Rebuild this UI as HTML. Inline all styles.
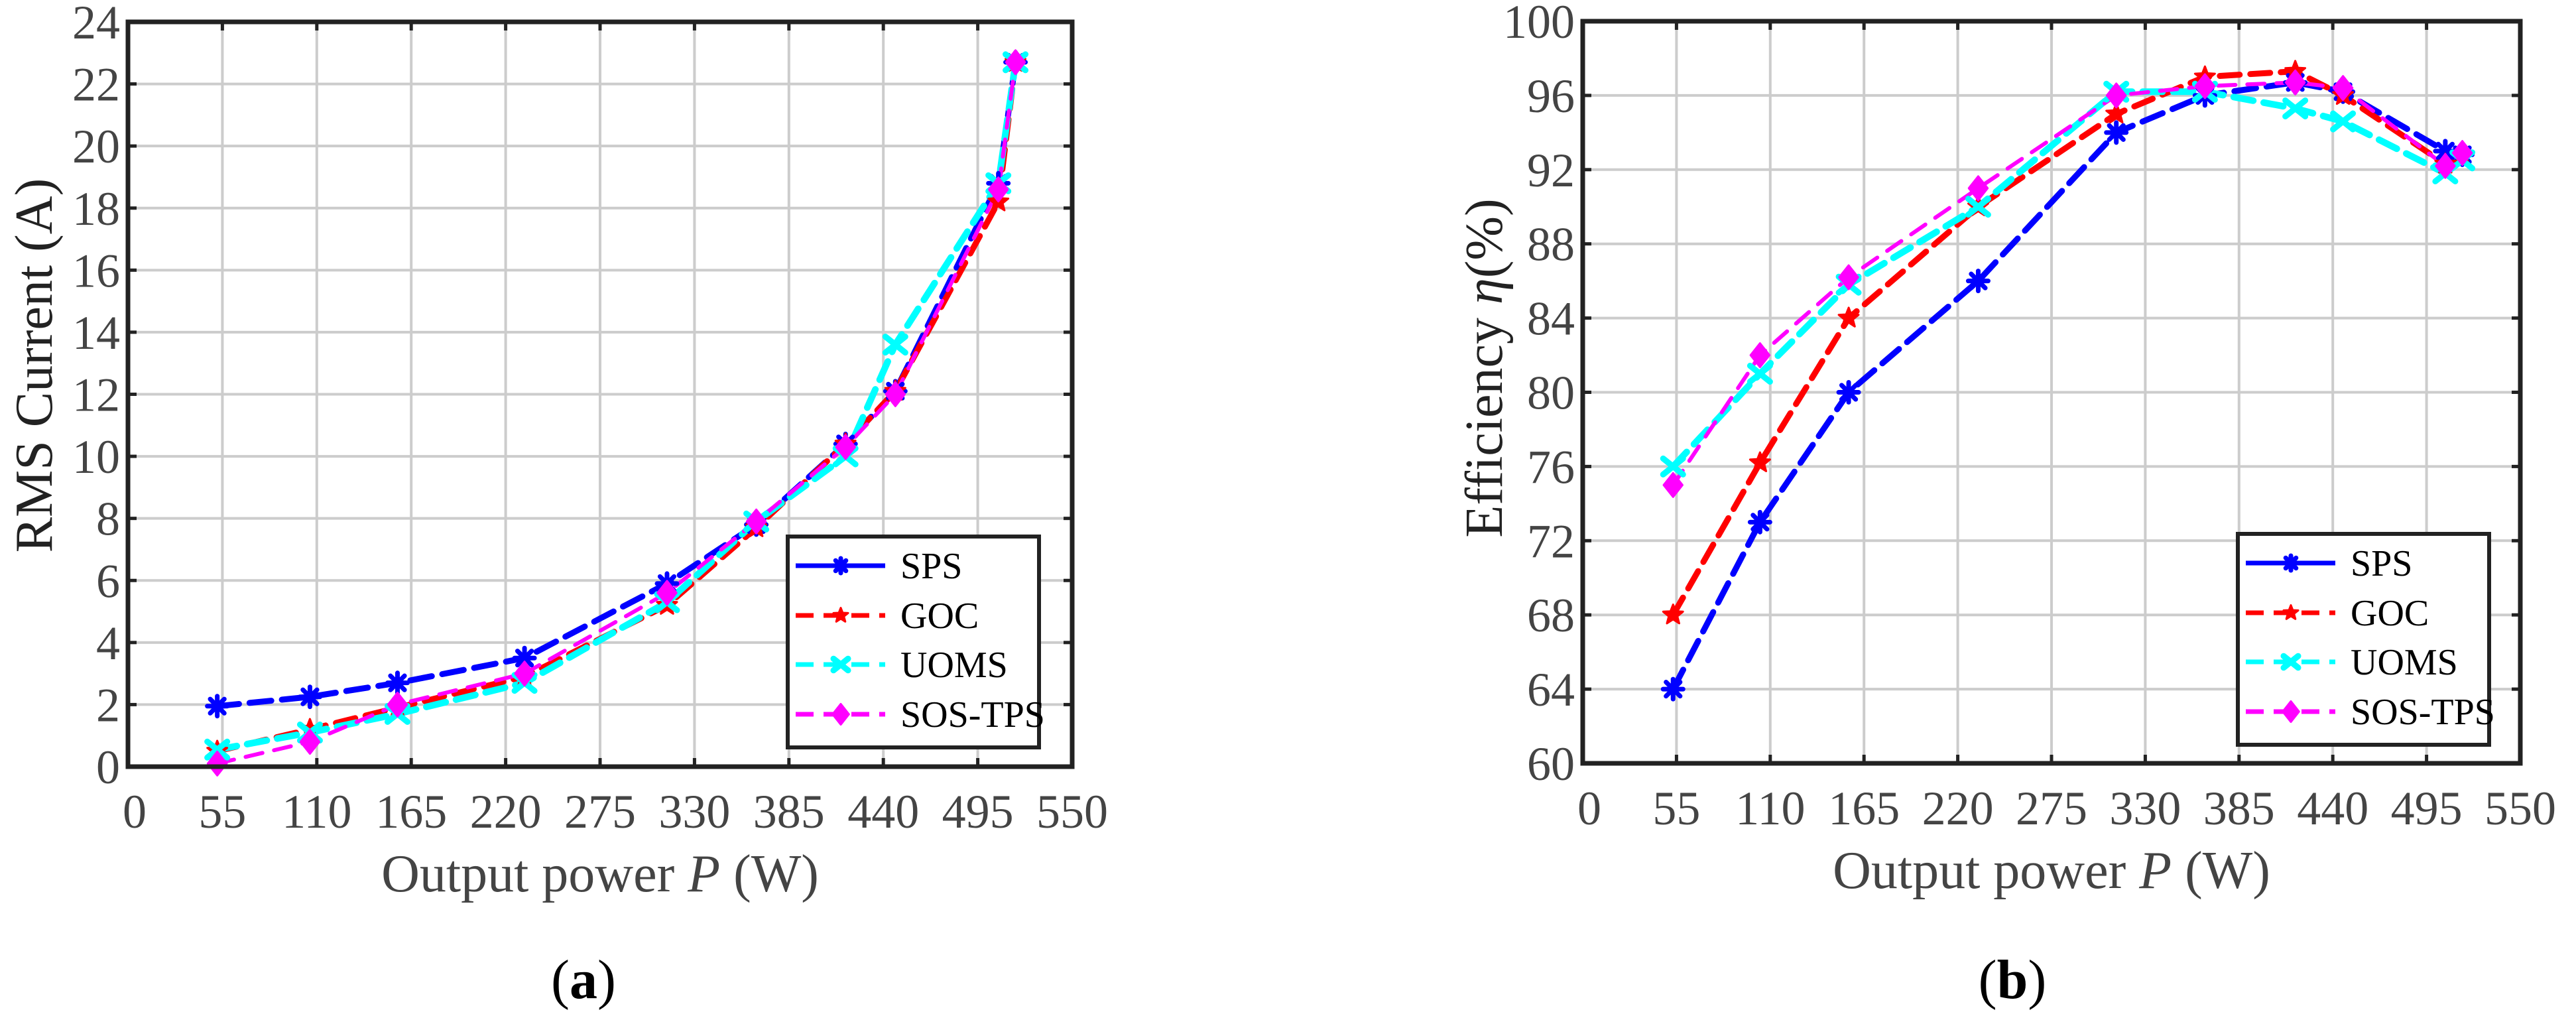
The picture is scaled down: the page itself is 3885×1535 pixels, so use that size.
<!DOCTYPE html>
<html><head><meta charset="utf-8"><style>
html,body{margin:0;padding:0;background:#fff;}
svg{display:block;}
text{font-family:"Liberation Serif",serif;}
</style></head><body>
<svg id="fig" width="3885" height="1535" viewBox="0 0 3885 1535" xmlns="http://www.w3.org/2000/svg"></svg>
<script>
// ---- Data ----
const seriesNames = ["SPS","GOC","UOMS","SOS-TPS"];
const seriesColors = ["#0000ff","#ff0000","#00ffff","#ff00ff"];
const seriesMarkers = ["asterisk","star","x","diamond"];

const powerA = [52,106,157,231,314,366,418,447,507,517];
const rmsSPS = [1.95,2.25,2.7,3.5,5.9,7.8,10.4,12.1,18.8,22.7];
const rmsGOC = [0.5,1.2,1.9,2.9,5.2,7.7,10.4,12.1,18.2,22.7];
const rmsUOMS = [0.55,1.1,1.7,2.7,5.3,7.9,10.0,13.6,18.8,22.7];
const rmsSOS = [0.1,0.8,2.0,3.0,5.6,7.9,10.3,12.0,18.6,22.7];

const powerB = [53,104,156,232,313,365,418,446,506,516];
const effSPS = [64,73,80,86,94,96,96.7,96.2,93,92.8];
const effGOC = [68,76.2,84,90,95,97,97.3,96,92.3,92.8];
const effUOMS = [76,81,85.8,90,96.2,96.2,95.3,94.6,91.8,92.5];
const effSOS = [75,82,86.2,91,96,96.5,96.7,96.4,92.2,92.9];

const xTicks = [0,55,110,165,220,275,330,385,440,495,550];
const yTicksA = [0,2,4,6,8,10,12,14,16,18,20,22,24];
const yTicksB = [60,64,68,72,76,80,84,88,92,96,100];

const NS = "http://www.w3.org/2000/svg";
const svg = document.getElementById('fig');
function mk(tag, attrs, parent){
  const e = document.createElementNS(NS, tag);
  for (const k in attrs) e.setAttribute(k, attrs[k]);
  (parent||svg).appendChild(e);
  return e;
}

function marker(g, type, cx, cy, color, s){
  let e;
  if (type==="asterisk"){
    e = mk('g',{}, g);
    for (let i=0;i<4;i++){
      const a = i*Math.PI/4;
      mk('line',{x1:cx-s*Math.cos(a),y1:cy-s*Math.sin(a),x2:cx+s*Math.cos(a),y2:cy+s*Math.sin(a),stroke:color,'stroke-width':7,'stroke-linecap':'round'}, e);
    }
  } else if (type==="star"){
    let pts=[];
    for(let i=0;i<10;i++){const r=i%2?s*0.45:s*1.05;const a=-Math.PI/2+i*Math.PI/5;pts.push((cx+r*Math.cos(a)).toFixed(1)+","+(cy+r*Math.sin(a)).toFixed(1));}
    e = mk('polygon',{points:pts.join(" "),fill:color,stroke:color,'stroke-width':3,'stroke-linejoin':'round'}, g);
  } else if (type==="x"){
    e = mk('g',{}, g);
    mk('line',{x1:cx-s,y1:cy-s*0.8,x2:cx+s,y2:cy+s*0.8,stroke:color,'stroke-width':9,'stroke-linecap':'round'}, e);
    mk('line',{x1:cx-s,y1:cy+s*0.8,x2:cx+s,y2:cy-s*0.8,stroke:color,'stroke-width':9,'stroke-linecap':'round'}, e);
  } else {
    e = mk('polygon',{points:`${cx},${cy-s*1.2} ${cx+s*0.95},${cy} ${cx},${cy+s*1.2} ${cx-s*0.95},${cy}`,fill:color,stroke:color,'stroke-width':3,'stroke-linejoin':'round'}, g);
  }
  return e;
}

function chart(cfg){
  const {id,L,R,T,B,yMin,yMax,yTicks,xs,ys,yTitle,caption,legL,legT} = cfg;
  const g = mk('g',{});
  
  
  const X = v => L + (v-0)/(550-0)*(R-L);
  const Y = v => B - (v-yMin)/(yMax-yMin)*(B-T);
  const grid = mk('g',{},g);
  
  
  xTicks.forEach(t=>{ if(t>0&&t<550) mk('line',{x1:X(t),y1:T,x2:X(t),y2:B,stroke:'#cccccc','stroke-width':4},grid); });
  yTicks.forEach(t=>{ if(t>yMin&&t<yMax) mk('line',{x1:L,y1:Y(t),x2:R,y2:Y(t),stroke:'#cccccc','stroke-width':4},grid); });
  xTicks.forEach(t=>{
    mk('line',{x1:X(t),y1:B,x2:X(t),y2:B-13,stroke:'#222','stroke-width':5},g);
    mk('line',{x1:X(t),y1:T,x2:X(t),y2:T+13,stroke:'#222','stroke-width':5},g);
    const tx = mk('text',{x:X(t)+(t===0?10:0),y:B+92,'font-size':72,fill:'#444','text-anchor':'middle'},g);
    tx.textContent = t;
    
    
  });
  yTicks.forEach(t=>{
    mk('line',{x1:L,y1:Y(t),x2:L+13,y2:Y(t),stroke:'#222','stroke-width':5},g);
    mk('line',{x1:R,y1:Y(t),x2:R-13,y2:Y(t),stroke:'#222','stroke-width':5},g);
    const ty = mk('text',{x:L-12,y:Y(t)+25,'font-size':72,fill:'#444','text-anchor':'end'},g);
    ty.textContent = t;
    
    
  });
  const widths=[9,9,10,6];
  const dash=["33 16","30 16","30 16","26 18"];
  ys.forEach((arr,si)=>{
    const sg = mk('g',{},g);
    
    
    const pts = arr.map((v,i)=>X(xs[i]).toFixed(1)+","+Y(v).toFixed(1)).join(" ");
    mk('polyline',{points:pts,fill:'none',stroke:seriesColors[si],'stroke-width':widths[si],'stroke-dasharray':dash[si],'stroke-linecap':'round','stroke-linejoin':'round'},sg);
  });
  ys.forEach((arr,si)=>{
    arr.forEach((v,i)=>{
      const m = marker(g, seriesMarkers[si], X(xs[i]), Y(v), seriesColors[si], 15);
      
      
    });
  });
  const fr = mk('rect',{x:L,y:T,width:R-L,height:B-T,fill:'none',stroke:'#222','stroke-width':7},g);
  
  
  const xt = mk('text',{x:(L+R)/2,y:B+188,'font-size':80,fill:'#444','text-anchor':'middle'},g);
  xt.innerHTML = 'Output power <tspan font-style="italic">P</tspan> (W)';
  
  
  const yt = mk('text',{x:0,y:0,'font-size':80,fill:'#222','text-anchor':'middle',transform:`translate(${cfg.yTitleX},${cfg.yTitleY}) rotate(-90)`},g);
  yt.innerHTML = yTitle;
  
  
  const cp = mk('text',{x:cfg.capX,y:1505,'font-size':84,fill:'#000','text-anchor':'middle'},g);
  cp.innerHTML = '(<tspan font-weight="bold">'+caption+'</tspan>)';
  
  
  const lg = mk('g',{},g);
  
  
  mk('rect',{x:legL,y:legT,width:379,height:318,fill:'#fff',stroke:'#222','stroke-width':6},lg);
  const rows=[44,119,193,268];
  seriesNames.forEach((n,si)=>{
    const e = mk('g',{},lg);
    
    
    const yy = legT+rows[si];
    mk('line',{x1:legL+12,y1:yy,x2:legL+147,y2:yy,stroke:seriesColors[si],'stroke-width':7,'stroke-dasharray':si===0?'none':'27 15'},e);
    marker(e, seriesMarkers[si], legL+80, yy, seriesColors[si], si===3?13:11);
    const t = mk('text',{x:legL+170,y:yy+19,'font-size':56,fill:'#000'},e);
    t.textContent = n;
  });
}

chart({id:'chart-a',L:193,R:1617,T:33,B:1156,yMin:0,yMax:24,yTicks:yTicksA,xs:powerA,
  ys:[rmsSPS,rmsGOC,rmsUOMS,rmsSOS],yTitle:'RMS Current (A)',caption:'a',yTitleX:78,yTitleY:551,capX:880,legL:1188,legT:809});
chart({id:'chart-b',L:2387,R:3801,T:32,B:1151,yMin:60,yMax:100,yTicks:yTicksB,xs:powerB,
  ys:[effSPS,effGOC,effUOMS,effSOS],yTitle:'Efficiency <tspan font-style="italic">η</tspan>(%)',caption:'b',yTitleX:2265,yTitleY:555,capX:3035,legL:3375,legT:805});
</script>
</body></html>
